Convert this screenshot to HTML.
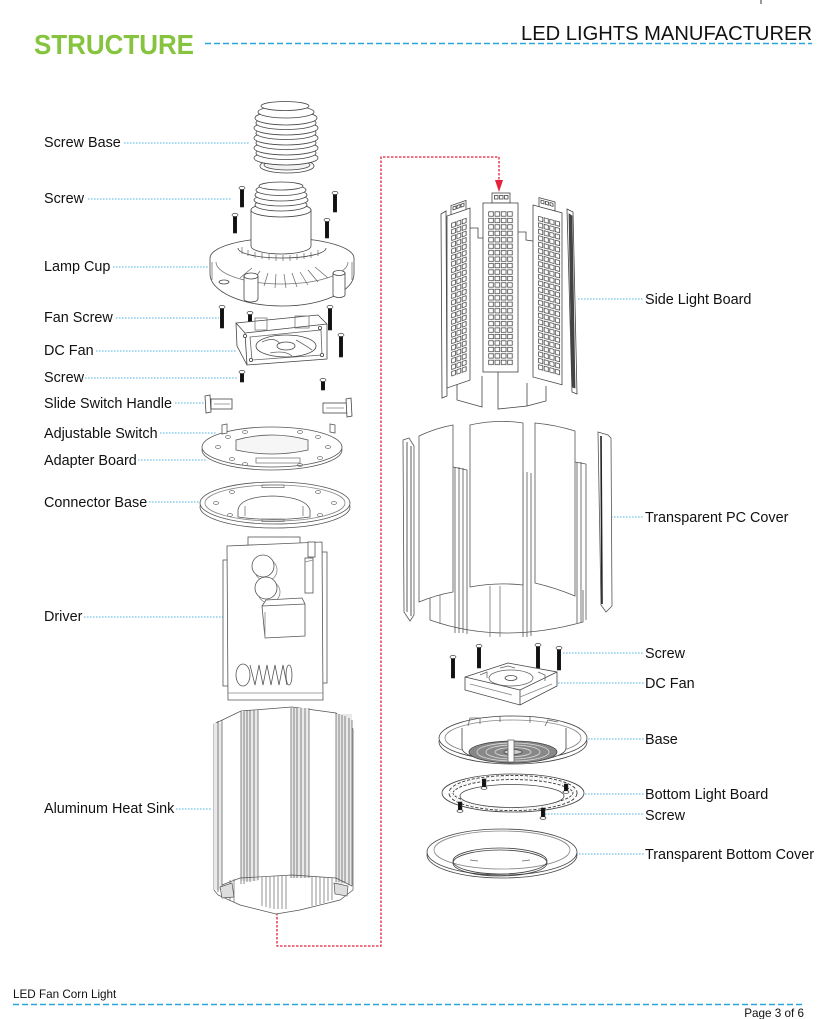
<!DOCTYPE html>
<html><head><meta charset="utf-8">
<style>
html,body{margin:0;padding:0;background:#fff;}
svg{display:block;}
text{font-family:"Liberation Sans",Arial,sans-serif;}
</style></head><body>
<svg width="826" height="1019" viewBox="0 0 826 1019" xmlns="http://www.w3.org/2000/svg">
<defs>
 <pattern id="ledC" patternUnits="userSpaceOnUse" width="6.3" height="6.45" x="488" y="211">
  <rect x="0.7" y="0.8" width="4.7" height="4.4" fill="none" stroke="#333" stroke-width="0.7"/>
 </pattern>
 <pattern id="ledL" patternUnits="userSpaceOnUse" width="5.3" height="6.45" x="4" y="8">
  <rect x="0.6" y="0.8" width="3.9" height="4.4" fill="none" stroke="#333" stroke-width="0.7"/>
 </pattern>
 <pattern id="ledR" patternUnits="userSpaceOnUse" width="5.6" height="6.45" x="5" y="9">
  <rect x="0.6" y="0.8" width="4.2" height="4.4" fill="none" stroke="#333" stroke-width="0.7"/>
 </pattern>
</defs>

<!-- HEADER -->
<text x="34" y="54" font-size="28" font-weight="bold" fill="#86c440" textLength="160" lengthAdjust="spacingAndGlyphs">STRUCTURE</text>
<text x="521" y="40" font-size="20.5" fill="#111" textLength="291" lengthAdjust="spacingAndGlyphs">LED LIGHTS MANUFACTURER</text>
<line x1="205" y1="43.5" x2="812" y2="43.5" stroke="#2ba4dd" stroke-width="1.6" stroke-dasharray="6 3"/>
<line x1="761" y1="0" x2="761" y2="4" stroke="#333" stroke-width="1"/>

<!-- FOOTER -->
<text x="13" y="998" font-size="11.7" fill="#111">LED Fan Corn Light</text>
<line x1="13" y1="1004.5" x2="804" y2="1004.5" stroke="#2ba4dd" stroke-width="1.6" stroke-dasharray="6 3"/>
<text x="804" y="1017" font-size="11.7" fill="#111" text-anchor="end">Page 3 of 6</text>

<!-- RED CONNECTOR -->
<path d="M277,913 L277,946 L381,946 L381,157 L499,157 L499,182" fill="none" stroke="#e3233c" stroke-width="1.3" stroke-dasharray="2.5 1.5"/>
<path d="M495,180 L503,180 L499,192 Z" fill="#e3233c"/>

<!-- LEADERS -->
<g stroke="#56b6e4" stroke-width="1.1" stroke-dasharray="1.6 1.4" fill="none">
 <line x1="124" y1="143" x2="250" y2="143"/>
 <line x1="88" y1="199" x2="232" y2="199"/>
 <line x1="113" y1="267" x2="208" y2="267"/>
 <line x1="116" y1="318" x2="219" y2="318"/>
 <line x1="96" y1="351" x2="236" y2="351"/>
 <line x1="85" y1="378" x2="238" y2="378"/>
 <line x1="175" y1="403" x2="205" y2="403"/>
 <line x1="160" y1="433" x2="216" y2="433"/>
 <line x1="138" y1="460" x2="206" y2="460"/>
 <line x1="149" y1="502" x2="204" y2="502"/>
 <line x1="84" y1="617" x2="224" y2="617"/>
 <line x1="176" y1="809" x2="212" y2="809"/>
 <line x1="578" y1="299" x2="644" y2="299"/>
 <line x1="611" y1="517" x2="644" y2="517"/>
 <line x1="563" y1="653" x2="644" y2="653"/>
 <line x1="558" y1="683" x2="644" y2="683"/>
 <line x1="588" y1="739" x2="644" y2="739"/>
 <line x1="585" y1="794" x2="644" y2="794"/>
 <line x1="545" y1="814" x2="644" y2="814"/>
 <line x1="576" y1="854" x2="644" y2="854"/>
</g>

<!-- LABELS -->
<g font-size="14.4" fill="#111">
 <text x="44" y="147">Screw Base</text>
 <text x="44" y="203">Screw</text>
 <text x="44" y="271">Lamp Cup</text>
 <text x="44" y="322">Fan Screw</text>
 <text x="44" y="355">DC Fan</text>
 <text x="44" y="382">Screw</text>
 <text x="44" y="408">Slide Switch Handle</text>
 <text x="44" y="438">Adjustable Switch</text>
 <text x="44" y="465">Adapter Board</text>
 <text x="44" y="507">Connector Base</text>
 <text x="44" y="621">Driver</text>
 <text x="44" y="813">Aluminum Heat Sink</text>
 <text x="645" y="304">Side Light Board</text>
 <text x="645" y="522">Transparent PC Cover</text>
 <text x="645" y="658">Screw</text>
 <text x="645" y="688">DC Fan</text>
 <text x="645" y="744">Base</text>
 <text x="645" y="799">Bottom Light Board</text>
 <text x="645" y="820">Screw</text>
 <text x="645" y="859">Transparent Bottom Cover</text>
</g>

<!-- SCREW BASE -->
<g stroke="#444" stroke-width="0.8" fill="#fff">
 <ellipse cx="287" cy="166" rx="27" ry="7"/>
 <ellipse cx="287" cy="165" rx="23" ry="5" fill="#f2f2f2"/>
 <rect x="254" y="110" width="64" height="50" stroke="none"/>
 <ellipse cx="286" cy="158" rx="32" ry="7"/>
 <ellipse cx="286" cy="153" rx="30" ry="6.5"/>
 <ellipse cx="286" cy="148" rx="32" ry="7"/>
 <ellipse cx="286" cy="143" rx="30" ry="6.5"/>
 <ellipse cx="286" cy="138" rx="32" ry="7"/>
 <ellipse cx="286" cy="133" rx="30" ry="6.5"/>
 <ellipse cx="286" cy="128" rx="32" ry="7"/>
 <ellipse cx="286" cy="123" rx="30" ry="6.5"/>
 <ellipse cx="286" cy="118" rx="31" ry="7"/>
 <ellipse cx="286" cy="112" rx="28" ry="6"/>
 <ellipse cx="285" cy="106" rx="24" ry="4.5"/>
</g>

<!-- LAMP CUP -->
<g stroke="#444" stroke-width="0.8" fill="#fff">
 <path d="M210,258 A72,20 0 0 1 354,258 L354,274 A72,32 0 0 1 210,274 Z"/>
 <path d="M216,262 A66,22 0 0 0 348,262" fill="none" stroke="#777"/>
 <!-- neck -->
 <path d="M251,210 L251,246 A30,8 0 0 0 311,246 L311,210 Z"/>
 <ellipse cx="281" cy="210" rx="30" ry="7"/>
 <ellipse cx="281" cy="205" rx="26" ry="6"/>
 <ellipse cx="281" cy="200" rx="27" ry="6"/>
 <ellipse cx="281" cy="195" rx="26" ry="6"/>
 <ellipse cx="281" cy="190" rx="25" ry="5.5"/>
 <ellipse cx="281" cy="186" rx="22" ry="4"/>
 <!-- teeth ring -->
 <path d="M238,248 A44,10 0 0 0 326,248" fill="none"/>
 <g stroke="#666" stroke-width="0.7">
  <line x1="242" y1="247" x2="242" y2="254"/><line x1="248" y1="250" x2="248" y2="256"/>
  <line x1="255" y1="252" x2="255" y2="258"/><line x1="262" y1="253" x2="262" y2="259"/>
  <line x1="269" y1="254" x2="269" y2="260"/><line x1="276" y1="255" x2="276" y2="261"/>
  <line x1="283" y1="255" x2="283" y2="261"/><line x1="290" y1="255" x2="290" y2="261"/>
  <line x1="297" y1="254" x2="297" y2="260"/><line x1="304" y1="253" x2="304" y2="259"/>
  <line x1="311" y1="252" x2="311" y2="258"/><line x1="318" y1="250" x2="318" y2="256"/>
 </g>
 <!-- radial ribs -->
 <g stroke="#666" stroke-width="0.7">
  <line x1="252" y1="268" x2="240" y2="278"/><line x1="260" y1="271" x2="252" y2="283"/>
  <line x1="268" y1="273" x2="264" y2="286"/><line x1="276" y1="274" x2="275" y2="288"/>
  <line x1="284" y1="274" x2="286" y2="288"/><line x1="292" y1="273" x2="297" y2="287"/>
  <line x1="300" y1="272" x2="308" y2="285"/><line x1="308" y1="270" x2="318" y2="282"/>
  <line x1="315" y1="267" x2="328" y2="278"/>
 </g>
 <path d="M244,276 L244,299 A7,3 0 0 0 258,299 L258,276 Z"/>
 <ellipse cx="251" cy="276" rx="7" ry="3"/>
 <path d="M333,273 L333,295 A6,2.5 0 0 0 345,295 L345,273 Z"/>
 <ellipse cx="339" cy="273" rx="6" ry="2.5"/>
 <ellipse cx="224" cy="282" rx="5" ry="2"/>
 <line x1="212" y1="262" x2="212" y2="280" stroke="#777"/>
 <line x1="352" y1="262" x2="352" y2="280" stroke="#777"/>
</g>

<!-- SCREWS (left) -->
<g stroke="#222" stroke-width="0.6">
 <g fill="#111">
  <rect x="240.3" y="189" width="3.4" height="18"/>
  <rect x="233.3" y="216" width="3.4" height="17"/>
  <rect x="333.3" y="194" width="3.4" height="18"/>
  <rect x="325.3" y="221" width="3.4" height="17"/>
  <rect x="220.3" y="308" width="3.4" height="20"/>
  <rect x="248.3" y="314" width="3.4" height="8"/>
  <rect x="328.3" y="308" width="3.4" height="22"/>
  <rect x="339.3" y="336" width="3.4" height="21"/>
  <rect x="240.3" y="373" width="3.4" height="9"/>
  <rect x="321.3" y="381" width="3.4" height="9"/>
 </g>
 <g fill="#fff">
  <ellipse cx="242" cy="188" rx="3" ry="1.6"/>
  <ellipse cx="235" cy="215" rx="3" ry="1.6"/>
  <ellipse cx="335" cy="193" rx="3" ry="1.6"/>
  <ellipse cx="327" cy="220" rx="3" ry="1.6"/>
  <ellipse cx="222" cy="307" rx="3" ry="1.6"/>
  <ellipse cx="250" cy="313" rx="3" ry="1.6"/>
  <ellipse cx="330" cy="307" rx="3" ry="1.6"/>
  <ellipse cx="341" cy="335" rx="3" ry="1.6"/>
  <ellipse cx="242" cy="372" rx="3" ry="1.6"/>
  <ellipse cx="323" cy="380" rx="3" ry="1.6"/>
 </g>
</g>

<!-- DC FAN (left) -->
<g stroke="#444" stroke-width="0.8" fill="#fff">
 <path d="M236,323 L318,315 L327,324 L327,359 L247,365 L237,346 Z"/>
 <path d="M236,323 L245,333 L327,324" fill="none"/>
 <path d="M245,333 L247,365" fill="none"/>
 <path d="M250,337 L321,330 L322,355 L252,360 Z" fill="none" stroke="#666"/>
 <ellipse cx="286" cy="346" rx="30" ry="11" fill="none"/>
 <ellipse cx="286" cy="346" rx="9" ry="4"/>
 <path d="M262,342 Q275,336 280,344 M296,340 Q305,345 312,350 M270,353 Q285,350 292,356" fill="none" stroke="#666"/>
 <rect x="255" y="318" width="12" height="12" fill="none" stroke="#777"/>
 <rect x="295" y="316" width="14" height="12" fill="none" stroke="#777"/>
 <circle cx="245" cy="336" r="1.6"/><circle cx="320" cy="328" r="1.6"/>
 <circle cx="251" cy="360" r="1.6"/><circle cx="322" cy="355" r="1.6"/>
</g>

<!-- SLIDE SWITCH HANDLES -->
<g stroke="#444" stroke-width="0.8" fill="#fff">
 <rect x="211" y="399" width="21" height="10"/>
 <line x1="214" y1="404" x2="230" y2="404" stroke="#888"/>
 <path d="M205,396 L210,395 L211,412 L206,413 Z"/>
 <rect x="323" y="403" width="24" height="10"/>
 <line x1="326" y1="408" x2="344" y2="408" stroke="#888"/>
 <path d="M346,399 L351,398 L352,416 L347,417 Z"/>
</g>

<!-- ADJUSTABLE SWITCH / ADAPTER BOARD -->
<g stroke="#555" stroke-width="0.8" fill="#fff">
 <ellipse cx="272" cy="450" rx="70" ry="20"/>
 <ellipse cx="272" cy="447" rx="70" ry="20"/>
 <path d="M236,440 Q272,430 308,440 L308,450 Q272,458 236,450 Z" fill="#f6f6f6"/>
 <path d="M256,458 L300,458 L300,463 L256,463 Z" fill="none" stroke="#777"/>
 <path d="M222,425 L227,424 L227,433 L222,434 Z"/>
 <path d="M330,424 L335,425 L335,433 L330,432 Z"/>
 <g fill="none" stroke="#777">
  <ellipse cx="218" cy="447" rx="2.5" ry="1.5"/><ellipse cx="228" cy="437" rx="2.5" ry="1.5"/>
  <ellipse cx="245" cy="432" rx="2.5" ry="1.5"/><ellipse cx="300" cy="432" rx="2.5" ry="1.5"/>
  <ellipse cx="318" cy="437" rx="2.5" ry="1.5"/><ellipse cx="328" cy="447" rx="2.5" ry="1.5"/>
  <ellipse cx="320" cy="458" rx="2.5" ry="1.5"/><ellipse cx="232" cy="459" rx="2.5" ry="1.5"/>
  <ellipse cx="245" cy="464" rx="2.5" ry="1.5"/><ellipse cx="300" cy="465" rx="2.5" ry="1.5"/>
 </g>
</g>

<!-- CONNECTOR BASE -->
<g stroke="#555" stroke-width="0.8" fill="#fff">
 <ellipse cx="275" cy="507" rx="75" ry="21"/>
 <ellipse cx="275" cy="503" rx="75" ry="21"/>
 <ellipse cx="275" cy="503" rx="70" ry="18" fill="none" stroke="#888"/>
 <path d="M238,510 Q240,497 272,496 Q306,497 310,510 L310,517 Q272,522 238,517 Z" fill="none"/>
 <path d="M245,506 L245,516 M303,506 L303,516" stroke="#777"/>
 <g fill="none" stroke="#777">
  <rect x="262" y="485" width="22" height="2.5"/><rect x="262" y="519" width="22" height="2.5"/>
  <ellipse cx="216" cy="503" rx="2.5" ry="1.5"/><ellipse cx="334" cy="503" rx="2.5" ry="1.5"/>
  <ellipse cx="232" cy="492" rx="2.5" ry="1.5"/><ellipse cx="318" cy="492" rx="2.5" ry="1.5"/>
  <ellipse cx="230" cy="515" rx="2.5" ry="1.5"/><ellipse cx="320" cy="515" rx="2.5" ry="1.5"/>
 </g>
</g>

<!-- DRIVER -->
<g stroke="#555" stroke-width="0.8" fill="#fff">
 <rect x="248" y="537" width="52" height="9"/>
 <rect x="223" y="560" width="5" height="126"/>
 <rect x="322" y="552" width="5" height="131"/>
 <path d="M227,546 L322,542 L323,700 L228,700 Z"/>
 <line x1="228" y1="693" x2="323" y2="693" stroke="#888"/>
 <rect x="308" y="542" width="7" height="15"/>
 <rect x="305" y="558" width="8" height="35"/>
 <line x1="305" y1="562" x2="313" y2="560" stroke="#888"/>
 <circle cx="266" cy="570" r="11" fill="none" stroke="#888"/>
 <circle cx="263" cy="566" r="11"/>
 <circle cx="269" cy="592" r="11" fill="none" stroke="#888"/>
 <circle cx="266" cy="588" r="11"/>
 <path d="M262,606 L266,600 L302,598 L305,604 L305,636 L265,638 L262,606 Z"/>
 <path d="M262,606 L305,604" fill="none"/>
 <path d="M265,612 L265,638" fill="none" stroke="#888"/>
 <ellipse cx="243" cy="675" rx="7" ry="11"/>
 <path d="M250,665 L255,685 L259,665 L263,685 L267,665 L271,685 L275,665 L279,685 L283,665 L287,685" fill="none"/>
 <ellipse cx="289" cy="675" rx="3" ry="10" fill="none"/>
</g>

<!-- HEAT SINK -->
<g stroke="#555" stroke-width="0.7" fill="#fff">
 <path d="M214,724 L241,711 L292,707 L336,713 L353,729 L353,890 L340,900 L300,910 L276,914 L240,905 L218,895 L214,890 Z"/>
 <g fill="#e9e9e9" stroke="none">
  <rect x="214" y="723" width="8" height="167"/>
  <rect x="241" y="711" width="17" height="170"/>
  <rect x="291" y="708" width="18" height="170"/>
  <rect x="336" y="714" width="16" height="170"/>
 </g>
 <g fill="none">
  <path d="M218,721 V892 M222,720 V893 M241,711 V884 M244,711 V884 M247,710 V882 M250,710 V882 M254,710 V881 M258,710 V880 M291,708 V878 M294,708 V878 M297,708 V878 M301,708 V878 M305,708 V878 M309,708 V878 M336,713 V882 M339,714 V882 M342,715 V883 M345,716 V883 M349,718 V885 M352,720 V886"/>
  <path d="M222,885 L240,878 L292,875 L336,878 L352,886" />
  <path d="M230,880 V900 M234,879 V902 M262,877 V906 M266,877 V907 M270,877 V908 M274,876 V909 M278,876 V909 M282,876 V909 M286,876 V909 M312,876 V906 M316,877 V905 M320,877 V904 M324,877 V903 M328,878 V901 M332,878 V900" stroke="#666"/>
  <path d="M220,887 L232,883 L234,897 L222,898 Z" fill="#ddd"/>
  <path d="M334,883 L348,886 L347,896 L335,894 Z" fill="#ddd"/>
 </g>
</g>

<!-- SIDE LIGHT BOARD -->
<g stroke="#444" stroke-width="0.8" fill="#fff">
 <!-- back pieces -->
 <path d="M457,384 L457,400 L482,407 L482,376" fill="none"/>
 <path d="M498,372 L498,409 L527,406 L527,383" fill="none"/>
 <path d="M527,406 L546,401 L546,386" fill="none"/>
 <path d="M470,228 L478,228 L478,238 L483,238" fill="none"/>
 <path d="M518,232 L526,232 L526,240 L533,241" fill="none"/>
 <!-- far strips -->
 <path d="M441,214 L446,211 L447,396 L442,398 Z"/>
 <path d="M567,209 L573,212 L577,394 L572,392 Z"/>
 <path d="M569,214 L572,216 L575,388 L572,387 Z" fill="#444"/>
 <!-- left board -->
 <g transform="translate(447,216) skewY(-19)">
  <rect x="0" y="0" width="23" height="172"/>
  <rect x="4" y="-9" width="15" height="9"/>
  <rect x="6" y="-7" width="3" height="3" fill="none"/><rect x="10" y="-7" width="3" height="3" fill="none"/><rect x="14" y="-7" width="3" height="3" fill="none"/>
  <rect x="4" y="8" width="15.9" height="155" fill="url(#ledL)" stroke="none"/>
 </g>
 <!-- center board -->
 <rect x="492" y="193" width="18" height="10"/>
 <rect x="494.5" y="195.5" width="3.5" height="3.5" fill="none"/><rect x="499.5" y="195.5" width="3.5" height="3.5" fill="none"/><rect x="504.5" y="195.5" width="3.5" height="3.5" fill="none"/>
 <rect x="483" y="203" width="35" height="169"/>
 <rect x="488" y="211" width="25.2" height="155" fill="url(#ledC)" stroke="none"/>
 <!-- right board -->
 <g transform="translate(533,205) skewY(15)">
  <rect x="0" y="0" width="29" height="172"/>
  <rect x="6" y="-9" width="16" height="9"/>
  <rect x="8" y="-7" width="3" height="3" fill="none"/><rect x="12.5" y="-7" width="3" height="3" fill="none"/><rect x="17" y="-7" width="3" height="3" fill="none"/>
  <rect x="5" y="9" width="22.4" height="155" fill="url(#ledR)" stroke="none"/>
 </g>
</g>

<!-- TRANSPARENT PC COVER -->
<g stroke="#555" stroke-width="0.8" fill="#fff">
 <path d="M430,588 L430,620 Q500,645 583,622 L583,590" fill="none"/>
 <path d="M440,590 V624 M490,586 V637 M500,586 V637" fill="none" stroke="#777"/>
 <path d="M455,467 V633 M459,467 V633 M463,468 V633 M467,470 V634" fill="none"/>
 <path d="M453,467 L467,470" fill="none"/>
 <path d="M523,472 V637 M527,472 V637 M531,473 V636" fill="none"/>
 <path d="M577,462 V623 M581,462 V622 M586,464 V620" fill="none"/>
 <path d="M575,462 L586,464" fill="none"/>
 <path d="M403,440 L409,438 L414,446 L414,615 L410,621 L404,612 Z"/>
 <path d="M407,442 V612 M411,446 V616" fill="none" stroke="#333"/>
 <path d="M419,436 Q436,428 453,425 L453,592 Q436,595 419,602 Z"/>
 <path d="M470,425 Q497,419 523,423 L523,585 Q497,582 470,587 Z"/>
 <path d="M535,423 Q556,425 575,431 L575,596 Q556,588 535,583 Z"/>
 <path d="M598,432 L608,435 L611,438 L612,606 L606,612 L601,605 Z"/>
 <path d="M601,436 L602,604" fill="none" stroke="#222" stroke-width="1.6"/>
</g>

<!-- SCREWS (right) -->
<g stroke="#222" stroke-width="0.6">
 <g fill="#111">
  <rect x="451.3" y="658" width="3.4" height="20"/>
  <rect x="477.3" y="647" width="3.4" height="21"/>
  <rect x="536.3" y="646" width="3.4" height="22"/>
  <rect x="557.3" y="649" width="3.4" height="21"/>
 </g>
 <g fill="#fff">
  <ellipse cx="453" cy="657" rx="3" ry="1.6"/>
  <ellipse cx="479" cy="646" rx="3" ry="1.6"/>
  <ellipse cx="538" cy="645" rx="3" ry="1.6"/>
  <ellipse cx="559" cy="648" rx="3" ry="1.6"/>
 </g>
</g>

<!-- DC FAN (right) -->
<g stroke="#444" stroke-width="0.8" fill="#fff">
 <path d="M465,677 L508,663 L557,672 L557,686 L520,705 L465,690 Z"/>
 <path d="M465,677 L520,690 L557,672" fill="none"/>
 <path d="M520,690 L520,705" fill="none"/>
 <ellipse cx="511" cy="678" rx="22" ry="8" fill="none" stroke="#666"/>
 <ellipse cx="511" cy="678" rx="6" ry="2.5"/>
 <path d="M480,675 L487,672 L487,678 M538,672 L545,675 L545,681 M500,668 L508,666 L515,668" fill="none" stroke="#666"/>
 <path d="M470,684 L512,695 M520,697 L552,684" fill="none" stroke="#888"/>
</g>

<!-- BASE -->
<g stroke="#444" stroke-width="0.8" fill="#fff">
 <ellipse cx="513" cy="742" rx="74" ry="22"/>
 <ellipse cx="513" cy="738" rx="74" ry="22"/>
 <ellipse cx="513" cy="738" rx="68" ry="18" fill="none" stroke="#888"/>
 <path d="M462,728 L462,748 A52,14 0 0 0 566,748 L566,728" />
 <path d="M468,726 L470,718 L480,718 L480,724 M500,722 L500,716 M530,723 L530,716 M545,726 L548,720 L558,722" fill="none" stroke="#666"/>
 <ellipse cx="513" cy="752" rx="44" ry="11" fill="#888"/>
 <ellipse cx="513" cy="752" rx="36" ry="9" fill="none" stroke="#ddd"/>
 <ellipse cx="513" cy="752" rx="27" ry="7" fill="none" stroke="#ddd"/>
 <ellipse cx="513" cy="752" rx="18" ry="4.5" fill="none" stroke="#ddd"/>
 <ellipse cx="513" cy="752" rx="9" ry="2.5" fill="#ccc"/>
 <rect x="508" y="740" width="6" height="22" fill="#fff" stroke="#666"/>
</g>

<!-- BOTTOM LIGHT BOARD -->
<g stroke="#444" stroke-width="0.8" fill="#fff">
 <ellipse cx="513" cy="793" rx="71" ry="19"/>
 <ellipse cx="513" cy="793" rx="62" ry="15.5" fill="none" stroke="#333" stroke-width="5" stroke-dasharray="3 1.8"/>
 <ellipse cx="513" cy="793" rx="62" ry="15.5" fill="none" stroke="#fff" stroke-width="3.2" stroke-dasharray="3 1.8"/>
 <ellipse cx="512" cy="796" rx="52" ry="11.5"/>
</g>
<g stroke="#222" stroke-width="0.6">
 <rect x="482.3" y="779" width="3.6" height="8" fill="#111"/>
 <rect x="564.3" y="784" width="3.6" height="7" fill="#111"/>
 <rect x="458.3" y="802" width="3.6" height="8" fill="#111"/>
 <rect x="541.3" y="808" width="3.6" height="9" fill="#111"/>
 <ellipse cx="484" cy="788" rx="3" ry="1.3" fill="#fff"/>
 <ellipse cx="566" cy="792" rx="3" ry="1.3" fill="#fff"/>
 <ellipse cx="460" cy="811" rx="3" ry="1.3" fill="#fff"/>
 <ellipse cx="543" cy="818" rx="3" ry="1.3" fill="#fff"/>
</g>

<!-- TRANSPARENT BOTTOM COVER -->
<g stroke="#444" stroke-width="0.8" fill="#fff">
 <ellipse cx="502" cy="855" rx="75" ry="23"/>
 <ellipse cx="502" cy="852" rx="75" ry="23"/>
 <ellipse cx="502" cy="850" rx="68" ry="19" fill="none" stroke="#888"/>
 <ellipse cx="500" cy="863" rx="47" ry="13" fill="none"/>
 <ellipse cx="500" cy="861" rx="47" ry="13" fill="none"/>
 <path d="M470,860 L478,861 M522,861 L530,860" stroke="#666"/>
</g>

</svg>
</body></html>
